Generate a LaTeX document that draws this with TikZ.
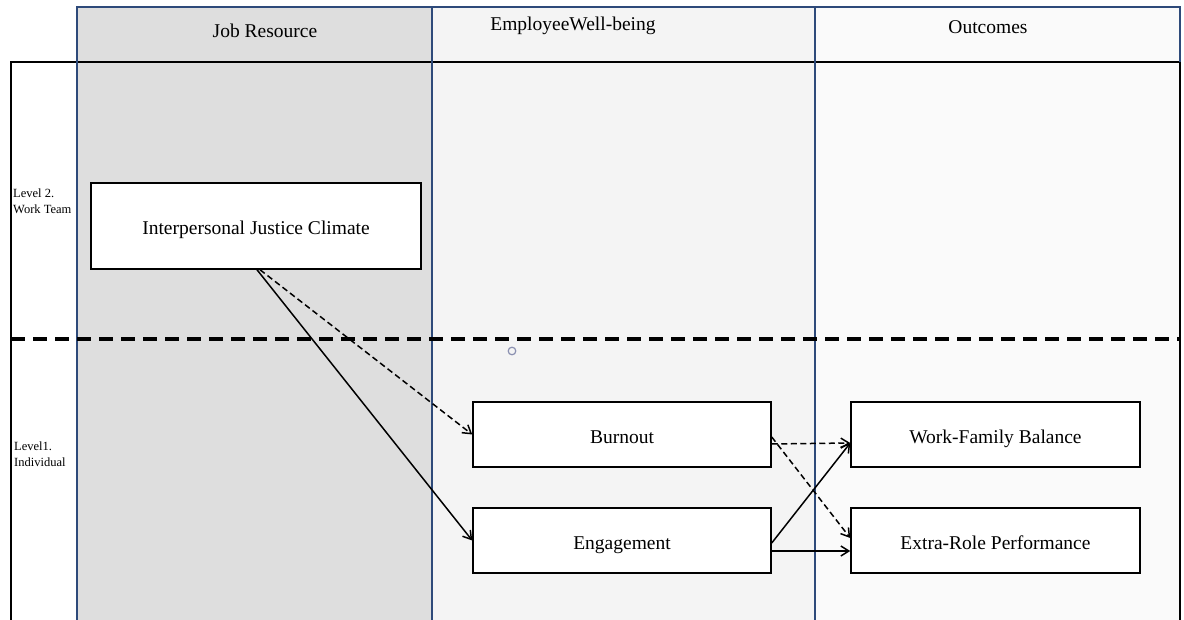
\documentclass[tikz,border=0pt]{standalone}
\usepackage{fontspec}
\setmainfont{Liberation Serif}
\usetikzlibrary{arrows.meta}
\definecolor{colA}{HTML}{DEDEDE}
\definecolor{colB}{HTML}{F4F4F4}
\definecolor{colC}{HTML}{FAFAFA}
\definecolor{bluel}{HTML}{2E4A7A}
\definecolor{circc}{HTML}{8A8FB0}
\tikzset{
  varbox/.style={draw=black, line width=1.5pt, fill=white, minimum height=65pt, inner sep=0pt,
    font=\fontsize{19.5}{22}\selectfont, text height=19pt, text depth=2pt},
  head/.style={font=\fontsize{19.5}{22}\selectfont, inner sep=0pt},
  lvl/.style={font=\fontsize{12.5}{16}\selectfont, align=left, inner sep=0pt, anchor=west},
  sarrow/.style={line width=1.5pt, -{Straight Barb[length=8pt,width=10pt]}},
  darrow/.style={sarrow, dash pattern=on 6pt off 3.5pt}
}
\begin{document}
\begin{tikzpicture}[x=1pt,y=-1pt]
\useasboundingbox (0,0) rectangle (1184,620);
\fill[white] (0,0) rectangle (1184,620);
% column fills
\fill[colA] (77,7) rectangle (432,620);
\fill[colB] (432,7) rectangle (815,620);
\fill[colC] (815,7) rectangle (1180,620);
% black frame
\draw[line width=1.8pt] (11,620) -- (11,62) -- (1180,62) -- (1180,620);
% blue column borders
\draw[bluel, line width=1.3pt] (77,620) -- (77,7) -- (1180,7) -- (1180,62);
\draw[bluel, line width=1.3pt] (432,7) -- (432,620);
\draw[bluel, line width=1.3pt] (815,7) -- (815,620);
% headers
\node[head] (hA) at (265,31) {Job Resource};
\node[head] (hB) at (573,26) {EmployeeWell-being};
\node[head] (hC) at (988,27) {Outcomes};
% level labels
\node[lvl] (l2) at (13,201) {Level 2.\\Work Team};
\node[lvl] (l1) at (14,454) {Level1.\\Individual};
% dashed level separator
\draw[line width=3.5pt, dash pattern=on 14pt off 8pt] (11,339) -- (1180,339);
\draw[color=circc, line width=1.2pt] (512,351) circle (3.8pt);
% boxes
\node[varbox, minimum width=330pt, minimum height=86pt] (ijc) at (256,226) {Interpersonal Justice Climate};
\node[varbox, minimum width=298pt] (bo) at (622,434.5) {Burnout};
\node[varbox, minimum width=298pt] (en) at (622,540.5) {Engagement};
\node[varbox, minimum width=289pt] (wfb) at (995.5,434.5) {Work-Family Balance};
\node[varbox, minimum width=289pt] (erp) at (995.5,540.5) {Extra-Role Performance};
% arrows
\draw[sarrow] ([xshift=1pt]ijc.south) -- (en.west);
\draw[darrow] ([xshift=4pt]ijc.south) -- (bo.west);
\draw[darrow] ([yshift=-9.5pt]bo.east) -- ([yshift=-8.5pt]wfb.west);
\draw[darrow] ([yshift=-2.5pt]bo.east) -- ([yshift=2.5pt]erp.west);
\draw[sarrow] ([yshift=-2.5pt]en.east) -- ([yshift=-8.5pt]wfb.west);
\draw[sarrow] ([yshift=-10.5pt]en.east) -- ([yshift=-10.5pt]erp.west);
\end{tikzpicture}
\end{document}
